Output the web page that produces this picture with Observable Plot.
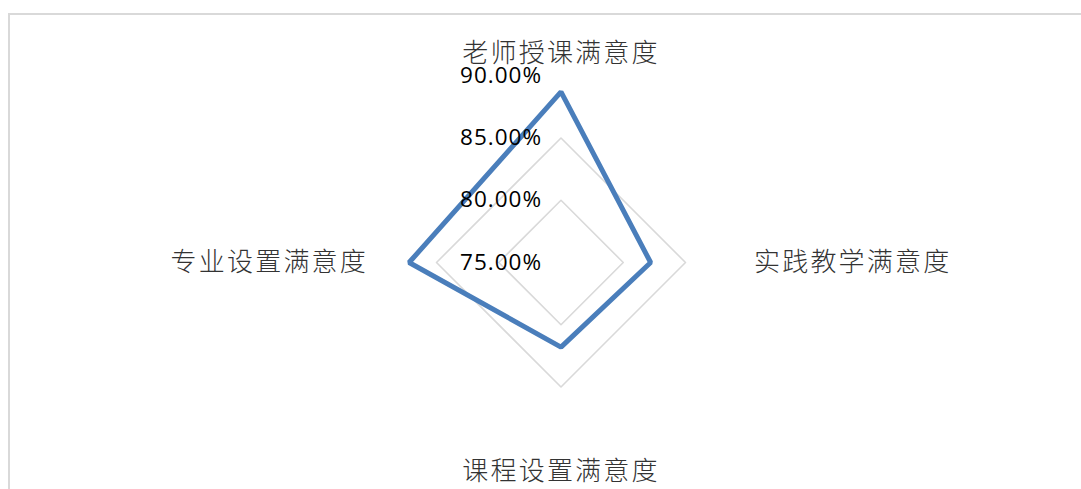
<!DOCTYPE html>
<html>
<head>
<meta charset="utf-8">
<script src="https://cdn.jsdelivr.net/npm/d3@7"></script>
<script src="https://cdn.jsdelivr.net/npm/@observablehq/plot@0.6"></script>
<style>
  html, body { margin: 0; padding: 0; background: #fff; }
  #wrap { position: relative; width: 1081px; height: 489px; overflow: hidden; }
  #wrap svg { position: absolute; left: 0; top: 0; }
  #frame { position: absolute; left: 8px; top: 13px; right: -4px; bottom: -4px;
           border-top: 2px solid #d9d9d9; border-left: 2px solid #d9d9d9; pointer-events: none; }
</style>
</head>
<body>
<div id="wrap"><div id="frame"></div></div>
<script>
// ---- data ----
const axes = ["老师授课满意度", "实践教学满意度", "课程设置满意度", "专业设置满意度"];
const values = [88.7, 82.2, 81.8, 87.2];
const ringLevels = [80, 85];
const tickLevels = [75, 80, 85, 90];
const tickLabels = ["75.00%", "80.00%", "85.00%", "90.00%"];
const rMin = 75;

// ---- layout ----
const W = 1081, H = 489;
const k = 12.45;            // px per percentage point
const cx = 560.5, cy = 262; // radar centre in px

const n = axes.length;
const ang = i => (i * 2 * Math.PI) / n;
const pt = (i, r) => ({x: r * Math.sin(ang(i)), y: r * Math.cos(ang(i))});

const series = values.map((v, i) => ({axis: axes[i], ...pt(i, v - rMin)}));
const rings = ringLevels.flatMap(l => axes.map((a, i) => ({level: l, ...pt(i, l - rMin)})));
const ticks = tickLevels.map((l, j) => ({label: tickLabels[j], x: 0, y: l - rMin}));

const labels = axes.map((a, i) => {
  const s = Math.sin(ang(i));
  const vertical = Math.abs(s) < 0.5;
  const r = vertical ? 16.8 : 15.5;
  return {axis: a, side: vertical ? "mid" : (s > 0 ? "right" : "left"), ...pt(i, r)};
});

const cjk = "'Noto Sans CJK SC', 'Noto Sans', sans-serif";

const chart = Plot.plot({
  width: W,
  height: H,
  margin: 0,
  x: {domain: [-cx / k, (W - cx) / k], range: [0, W], axis: null},
  y: {domain: [-(H - cy) / k, cy / k], range: [H, 0], axis: null},
  style: {background: "transparent", overflow: "visible"},
  marks: [
    Plot.line(rings, {x: "x", y: "y", z: "level", curve: "linear-closed",
      stroke: "#d9d9d9", strokeWidth: 1.6}),
    Plot.line(series, {x: "x", y: "y", curve: "linear-closed",
      stroke: "#4a7ebb", strokeWidth: 5, strokeLinejoin: "miter"}),
    Plot.text(ticks, {x: "x", y: "y", text: "label", textAnchor: "end", dx: -19,
      fontSize: 22.5, fill: "#000", fontFamily: "'Open Sans', 'Noto Sans', sans-serif",
      lineAnchor: "middle"}),
    Plot.text(labels.filter(d => d.side === "mid"), {x: "x", y: "y", text: "axis",
      textAnchor: "middle", fontSize: 26, fill: "#333", fontFamily: cjk, fontWeight: 300}),
    Plot.text(labels.filter(d => d.side === "right"), {x: "x", y: "y", text: "axis",
      textAnchor: "start", fontSize: 26, fill: "#333", fontFamily: cjk, fontWeight: 300}),
    Plot.text(labels.filter(d => d.side === "left"), {x: "x", y: "y", text: "axis",
      textAnchor: "end", fontSize: 26, fill: "#333", fontFamily: cjk, fontWeight: 300})
  ]
});
chart.querySelectorAll("text").forEach(t => {
  if (/满意度/.test(t.textContent)) t.style.letterSpacing = "2.2px";
  if (/%/.test(t.textContent)) t.style.letterSpacing = "1px";
});
document.getElementById("wrap").prepend(chart);
</script>
</body>
</html>
